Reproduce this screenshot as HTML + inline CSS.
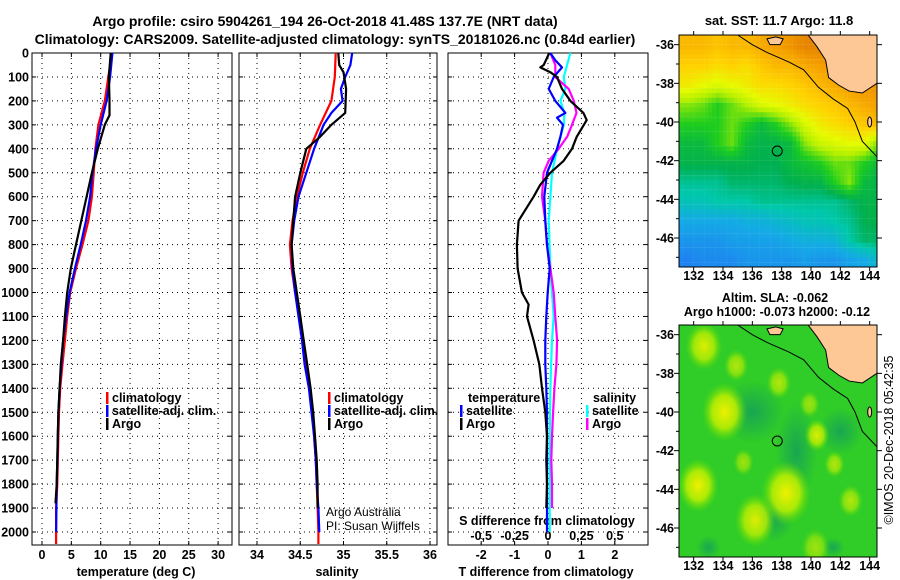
<!DOCTYPE html>
<html><head><meta charset="utf-8"><style>
body{margin:0;background:#fff}
svg{display:block;font-family:"Liberation Sans",sans-serif;font-weight:bold}
</style></head><body>
<svg id="s" width="900" height="580" viewBox="0 0 900 580">
<text x="325" y="26" font-size="14" text-anchor="middle">Argo profile: csiro 5904261_194 26-Oct-2018 41.48S 137.7E (NRT data)</text>
<text x="335" y="44" font-size="14" text-anchor="middle">Climatology: CARS2009. Satellite-adjusted climatology: synTS_20181026.nc (0.84d earlier)</text>
<g id="g"></g>
</svg>
<script>
// ---- data ----
const depthTicks=[0,100,200,300,400,500,600,700,800,900,1000,1100,1200,1300,1400,1500,1600,1700,1800,1900,2000];
const tempTicks=[0,5,10,15,20,25,30];
const salTicks=[34,34.5,35,35.5,36];
const tdTicks=[-2,-1,0,1,2];
const sdTicks=[-0.5,-0.25,0,0.25,0.5];
const tClimD=[0,50,100,200,300,400,500,600,700,800,900,1000,1100,1200,1300,1400,1500,1600,1700,1800,1900,2000,2050];
const tClim=[11.8,11.6,11.3,10.7,9.6,9.1,8.8,8.5,7.9,6.9,5.8,4.8,4.3,3.9,3.5,3.1,2.9,2.8,2.7,2.6,2.4,2.4,2.4];
const tSatD=[0,100,200,300,400,500,600,700,800,900,1000,1100,1200,1300,1400,1500,1600,1700,1800,1900,2000];
const tSat=[12.0,11.6,11.0,10.0,9.2,8.6,8.2,7.5,6.6,5.6,4.7,4.1,3.6,3.3,3.0,2.8,2.7,2.6,2.5,2.45,2.4];
const tArgoD=[0,100,200,260,300,400,500,600,700,800,900,1000,1100,1200,1300,1400,1500,1600,1700,1800,1880];
const tArgo=[11.7,11.4,11.5,11.5,10.7,9.5,8.5,7.6,6.7,5.8,4.9,4.3,3.9,3.6,3.2,3.0,2.8,2.7,2.6,2.5,2.3];
const sClimD=[0,100,200,300,400,500,600,700,800,900,1000,1100,1200,1300,1400,1500,1600,1700,1800,1900,2000,2050];
const sClim=[34.91,34.90,34.86,34.73,34.61,34.53,34.46,34.41,34.38,34.40,34.44,34.50,34.53,34.57,34.61,34.64,34.66,34.68,34.69,34.70,34.71,34.71];
const sSatD=[0,50,100,150,200,250,300,400,500,600,700,800,900,1000,1100,1200,1300,1400,1500,1600,1700,1800,1900,2000];
const sSat=[35.10,35.08,35.02,34.97,34.99,34.86,34.77,34.66,34.57,34.48,34.43,34.40,34.41,34.44,34.48,34.52,34.55,34.60,34.63,34.66,34.68,34.69,34.71,34.72];
const sArgoD=[0,50,80,150,250,300,350,400,500,600,700,800,900,1000,1100,1200,1300,1400,1500,1600,1700,1800,1900];
const sArgo=[34.94,34.95,35.00,35.03,35.02,34.86,34.73,34.57,34.50,34.44,34.42,34.40,34.42,34.46,34.50,34.54,34.58,34.62,34.65,34.67,34.69,34.70,34.70];
const dTSatD=[0,30,60,100,150,200,250,270,300,350,400,500,600,700,800,900,1000,1100,1200,1300,1400,1500,2000];
const dTSat=[0.07,0.22,0.42,0.17,0.02,0.22,0.52,0.27,0.45,0.37,0.27,-0.03,-0.11,-0.08,-0.03,0.05,-0.01,-0.05,-0.08,-0.08,-0.05,-0.03,-0.03];
const dTArgoD=[0,50,60,80,100,150,200,250,280,350,400,450,500,550,600,700,800,900,1000,1050,1100,1200,1300,1400,1500,1600,1700,1800,1900];
const dTArgo=[0.04,-0.13,-0.23,0.07,0.27,0.42,0.67,1.06,1.16,0.86,0.72,0.47,0.07,-0.23,-0.43,-0.88,-0.93,-0.91,-0.78,-0.58,-0.63,-0.43,-0.26,-0.18,-0.08,-0.03,-0.05,-0.03,-0.05];
const dSSatD=[0,50,100,150,200,250,300,400,500,600,700,900,1000,1100,1200,1300,1400,1600,1800,2000];
const dSSat=[0.168,0.143,0.118,0.130,0.093,0.123,0.118,0.068,0.030,0.018,0.005,0.018,0.030,0.043,0.030,0.023,0.018,0.013,0.013,0.013];
const dSArgoD=[0,50,100,150,200,250,300,350,400,450,500,600,700,800,900,1000,1100,1200,1300,1400,1500,1600,1700,1800,1900];
const dSArgo=[0.018,0.055,0.055,0.155,0.193,0.213,0.180,0.143,0.080,0.005,-0.033,-0.045,-0.020,-0.008,0.018,0.043,0.055,0.068,0.063,0.048,0.038,0.030,0.025,0.030,0.030];
// SST grid (0=blue .. 1=dark orange), rows from -35.5 southward, 1 deg cells from 131E
const sstGrid=[
[.85,.85,.83,.85,.85,.88,.9,.92,.95,.95,.95,.95,.95,.95],
[.8,.8,.78,.8,.78,.82,.85,.85,.88,.9,.92,.95,.95,.95],
[.75,.72,.7,.72,.75,.78,.78,.8,.82,.85,.88,.9,.92,.92],
[.62,.6,.55,.6,.65,.7,.72,.75,.78,.8,.82,.85,.88,.9],
[.55,.55,.55,.6,.55,.5,.55,.62,.7,.75,.78,.8,.82,.85],
[.5,.5,.55,.6,.5,.48,.48,.5,.62,.68,.7,.72,.72,.6],
[.48,.48,.48,.48,.48,.47,.47,.5,.52,.55,.6,.6,.55,.5],
[.42,.42,.42,.45,.45,.45,.45,.47,.48,.48,.55,.62,.5,.48],
[.38,.38,.4,.4,.4,.42,.42,.42,.42,.42,.42,.45,.48,.48],
[.3,.3,.3,.3,.32,.32,.34,.36,.38,.38,.4,.42,.47,.48],
[.25,.25,.25,.27,.27,.28,.28,.3,.32,.32,.33,.4,.45,.45],
[.2,.22,.22,.22,.25,.25,.25,.25,.27,.25,.25,.28,.3,.35]];
// SLA blobs: lon, lat, radius(deg), strength
const slaLon=[132.7,134.1,134.9,137.8,140.4,141.6,132.3,135.4,138.3,136.2,142.7,139.9,140.3];
const slaLat=[-36.6,-40,-37.6,-38.5,-41.2,-42.7,-43.8,-42.6,-44.2,-45.6,-44.6,-39.6,-47];
const slaRad=[0.9,1.1,0.6,0.6,0.6,0.5,1.0,0.5,1.2,1.0,0.6,0.5,0.7];
const slaStr=[0.9,1.0,0.7,0.7,0.9,0.7,1.0,0.6,1.0,0.9,0.7,0.6,0.6];

const NS='http://www.w3.org/2000/svg';
const G=document.getElementById('g');
function mk(tag,at,parent){const e=document.createElementNS(NS,tag);for(const k in at)e.setAttribute(k,at[k]);(parent||G).appendChild(e);return e;}
const PT=53,PB=545;
const yD=d=>53+d*0.2395;
const xT=t=>42+t*5.87;
const xS=s=>257+(s-34)*86.5;
const xDT=t=>548+t*33.4;
const xDS=s=>548+s*133.6;

function panel(name,x0,x1,vx){
  const r=mk('rect',{x:x0,y:PT,width:x1-x0,height:PB-PT,fill:'none',stroke:'#000','stroke-width':1});
  
  
  depthTicks.forEach(d=>{const y=yD(d);
    const l=mk('line',{x1:x0,x2:x1,y1:y,y2:y,stroke:'#000','stroke-dasharray':'1 4','stroke-width':1});
    
    
    mk('line',{x1:x0,x2:x0+4,y1:y,y2:y,stroke:'#000'});mk('line',{x1:x1-4,x2:x1,y1:y,y2:y,stroke:'#000'});});
  vx.forEach(x=>{const l=mk('line',{x1:x,x2:x,y1:PT,y2:PB,stroke:'#000','stroke-dasharray':'1 4'});
    
    
    mk('line',{x1:x,x2:x,y1:PB-4,y2:PB,stroke:'#000'});mk('line',{x1:x,x2:x,y1:PT,y2:PT+4,stroke:'#000'});});
}
panel('temp-panel',32,232,tempTicks.map(xT));
panel('sal-panel',239,437,salTicks.map(xS));
panel('diff-panel',448,648,tdTicks.map(xDT));

depthTicks.forEach(d=>{const t=mk('text',{x:29,y:yD(d)+4.5,'font-size':12.5,'text-anchor':'end'});t.textContent=d;
  
  });
function xlab(arr,f,y,name,fmt){arr.forEach(v=>{const t=mk('text',{x:f(v),y:y,'font-size':12.5,'text-anchor':'middle'});t.textContent=fmt?fmt(v):v;
  
  });}
xlab(tempTicks,xT,559,'temp-tick-label');
xlab(salTicks,xS,559,'sal-tick-label');
xlab(tdTicks,xDT,559,'tdiff-tick-label');
xlab(sdTicks,xDS,540,'sdiff-tick-label',v=>String(v).replace('0.','0,'));
function txt(x,y,s,name,sz,anchor,wt){const t=mk('text',{x:x,y:y,'font-size':sz||12.5,'text-anchor':anchor||'middle'});if(wt)t.setAttribute('font-weight',wt);t.textContent=s;
  
  return t;}
txt(136,576,'temperature (deg C)','temp-axis-title');
txt(337,576,'salinity','sal-axis-title');
txt(546,576,'T difference from climatology','tdiff-axis-title');
txt(547,525,'S difference from climatology','sdiff-axis-title');
txt(326,516,'Argo Australia','credit-argo',12,'start','normal');
txt(326,530,'PI: Susan Wijffels','credit-pi',12,'start','normal');

function line(xs,ds,fx,col,name,w){const p=xs.map((v,i)=>fx(v).toFixed(1)+','+yD(ds[i]).toFixed(1)).join(' ');
  const e=mk('polyline',{points:p,fill:'none',stroke:col,'stroke-width':w||2.2,'stroke-linejoin':'round'});
  
  }
line(tClim,tClimD,xT,'#f00','temp-climatology-line');
line(tSat,tSatD,xT,'#00f','temp-satellite-line');
line(tArgo,tArgoD,xT,'#000','temp-argo-line');
line(sClim,sClimD,xS,'#f00','sal-climatology-line');
line(sSat,sSatD,xS,'#00f','sal-satellite-line');
line(sArgo,sArgoD,xS,'#000','sal-argo-line');
line(dSSat,dSSatD,xDS,'#0ff','sdiff-satellite-line');
line(dSArgo,dSArgoD,xDS,'#f0f','sdiff-argo-line');
line(dTSat,dTSatD,xDT,'#00f','tdiff-satellite-line');
line(dTArgo,dTArgoD,xDT,'#000','tdiff-argo-line');

function leg(x,y,col,s,name){mk('rect',{x:x,y:y-10,width:2.5,height:12,fill:col});txt(x+6,y,s,name,12.5,'start');}
leg(106,402,'#f00','climatology','legend-temp-clim');leg(106,415,'#00f','satellite-adj. clim.','legend-temp-sat');leg(106,428,'#000','Argo','legend-temp-argo');
leg(328,402,'#f00','climatology','legend-sal-clim');leg(328,415,'#00f','satellite-adj. clim.','legend-sal-sat');leg(328,428,'#000','Argo','legend-sal-argo');
txt(468,402,'temperature','legend-temp-header',12.5,'start');
leg(460,415,'#00f','satellite','legend-tdiff-sat');leg(460,428,'#000','Argo','legend-tdiff-argo');
txt(593,402,'salinity','legend-sal-header',12.5,'start');
leg(586,415,'#0ff','satellite','legend-sdiff-sat');leg(586,428,'#f0f','Argo','legend-sdiff-argo');

// ---- maps ----
function sstCol(v){const st=[[.2,[30,130,240]],[.3,[20,170,230]],[.4,[0,200,170]],[.47,[0,175,80]],[.55,[30,205,30]],[.65,[180,240,0]],[.72,[230,250,0]],[.8,[255,210,0]],[.9,[245,160,0]],[1,[215,105,0]]];
  if(v<=st[0][0])return 'rgb('+st[0][1]+')';for(let i=1;i<st.length;i++){if(v<=st[i][0]){const a=st[i-1],b=st[i],f=(v-a[0])/(b[0]-a[0]);return 'rgb('+a[1].map((c,j)=>Math.round(c+(b[1][j]-c)*f))+')';}}return 'rgb(215,105,0)';}
function map(name,top,bot,latTop,latBot){
  const X0=679,X1=877,lon0=131,lon1=144.5;
  const fx=l=>X0+(l-lon0)*(X1-X0)/(lon1-lon0), fy=a=>top+(latTop-a)*(bot-top)/(latTop-latBot);
  const grp=mk('g',{});
  const clip=mk('clipPath',{id:name+'c'},grp);mk('rect',{x:X0,y:top,width:X1-X0,height:bot-top},clip);
  const inner=mk('g',{'clip-path':'url(#'+name+'c)'},grp);
  return {fx,fy,inner,grp,X0,X1,top,bot};
}
function finishMap(m){
  const {fx,fy,inner,grp}=m;
  mk('path',{d:'M'+fx(139.8)+','+fy(-35.5)+' L'+fx(140.4)+','+fy(-36.1)+' L'+fx(141)+','+fy(-36.8)+' L'+fx(141.2)+','+fy(-37.7)+' L'+fx(141.9)+','+fy(-38.1)+' L'+fx(142.6)+','+fy(-38.4)+' L'+fx(143.5)+','+fy(-38.5)+' L'+fx(144.5)+','+fy(-38.0)+' L'+fx(144.6)+','+fy(-35.4)+'Z',fill:'#fdc896',stroke:'#000','stroke-width':1},inner);
  mk('path',{d:'M'+fx(137)+','+fy(-35.7)+' L'+fx(137.6)+','+fy(-35.6)+' L'+fx(138.1)+','+fy(-35.7)+' L'+fx(137.9)+','+fy(-36)+' L'+fx(137.2)+','+fy(-36)+'Z',fill:'#fdc896',stroke:'#000'},inner);
  mk('ellipse',{cx:fx(144),cy:fy(-40),rx:2,ry:5,fill:'#fdc896',stroke:'#000'},inner);
  const pts=[[135,-35.5],[136,-36],[137,-36.4],[138.5,-36.9],[139.5,-37.3],[140.5,-38.2],[141.5,-38.8],[142.5,-39.3],[143,-40],[143.5,-41],[144.5,-41.8]];
  mk('polyline',{points:pts.map(p=>fx(p[0])+','+fy(p[1])).join(' '),fill:'none',stroke:'#000','stroke-width':1},inner);
  const c=mk('circle',{cx:fx(137.7),cy:fy(-41.5),r:5,fill:'none',stroke:'#000'},grp);
  
  mk('rect',{x:m.X0,y:m.top,width:m.X1-m.X0,height:m.bot-m.top,fill:'none',stroke:'#000'},grp);
  [-36,-38,-40,-42,-44,-46].forEach(a=>{const y=fy(a);mk('line',{x1:m.X0-5,x2:m.X0,y1:y,y2:y,stroke:'#000'},grp);mk('line',{x1:m.X1,x2:m.X1+5,y1:y,y2:y,stroke:'#000'},grp);
    const t=txt(m.X0-5,y+4.5,String(a),'map-lat-label',12.5,'end');grp.appendChild(t);});
  [-37,-39,-41,-43,-45,-47].forEach(a=>{const y=fy(a);mk('line',{x1:m.X0-3,x2:m.X0,y1:y,y2:y,stroke:'#000'},grp);});
  [132,134,136,138,140,142,144].forEach(l=>{const x=fx(l);mk('line',{x1:x,x2:x,y1:m.bot,y2:m.bot+4,stroke:'#000'},grp);mk('line',{x1:x,x2:x,y1:m.top-4,y2:m.top,stroke:'#000'},grp);
    const t=txt(x,m.bot+13,String(l),'map-lon-label',12.5);grp.appendChild(t);});
}
const m1=map('sst-map',35,267,-35.5,-47.5);
// bilinear interpolation of the grid for display (0.25 deg cells)
function sstAt(r,c){r=Math.max(0,Math.min(11,r));c=Math.max(0,Math.min(13,c));const r0=Math.floor(r),c0=Math.floor(c),r1=Math.min(11,r0+1),c1=Math.min(13,c0+1),fr=r-r0,fc=c-c0;
  return (sstGrid[r0][c0]*(1-fc)+sstGrid[r0][c1]*fc)*(1-fr)+(sstGrid[r1][c0]*(1-fc)+sstGrid[r1][c1]*fc)*fr;}
for(let i=0;i<48;i++)for(let j=0;j<56;j++){
  const v=sstAt(i/4-0.5,j/4-0.5);
  const r=mk('rect',{x:m1.fx(131+j/4).toFixed(1),y:m1.fy(-35.5-i/4).toFixed(1),width:3.9,height:5.0,fill:sstCol(v)},m1.inner);
  
  }
finishMap(m1);
txt(779,25,'sat. SST: 11.7 Argo: 11.8','sst-map-title',13);
const m2=map('sla-map',325,557,-35.5,-47.5);
const defs=mk('defs',{});
const rg=mk('radialGradient',{id:'blob'},defs);
mk('stop',{offset:'0','stop-color':'#f0f000'},rg);mk('stop',{offset:'0.55','stop-color':'#c0f000','stop-opacity':'0.85'},rg);mk('stop',{offset:'1','stop-color':'#60e000','stop-opacity':'0'},rg);
const rg2=mk('radialGradient',{id:'dark'},defs);
mk('stop',{offset:'0','stop-color':'#109a60','stop-opacity':'0.75'},rg2);mk('stop',{offset:'1','stop-color':'#109a60','stop-opacity':'0'},rg2);
mk('rect',{x:679,y:325,width:198,height:232,fill:'#30cc28'},m2.inner);
[[136,-40,2.2,1.6],[139,-42,1.4,2.5],[142,-41,1.5,1.2],[137.5,-45.5,1.3,1.2],[133,-47,0.8,0.6],[141.5,-47,0.8,0.5]].forEach(d=>mk('ellipse',{cx:m2.fx(d[0]),cy:m2.fy(d[1]),rx:d[2]*14.7,ry:d[3]*19.3,fill:'url(#dark)'},m2.inner));
slaLon.forEach((l,i)=>{const e=mk('ellipse',{cx:m2.fx(l),cy:m2.fy(slaLat[i]),rx:slaRad[i]*14.7*1.4,ry:slaRad[i]*19.3*1.4,fill:'url(#blob)','fill-opacity':slaStr[i]},m2.inner);
  
  });
finishMap(m2);
txt(775,302,'Altim. SLA: -0.062','sla-map-title',12.5);
txt(777,316,'Argo h1000: -0.073 h2000: -0.12','sla-map-subtitle',12.5);
const st=txt(0,0,'©IMOS 20-Dec-2018 05:42:35','timestamp',12.5,'middle','normal');
st.setAttribute('transform','translate(893,440) rotate(-90)');
</script>
</body></html>
